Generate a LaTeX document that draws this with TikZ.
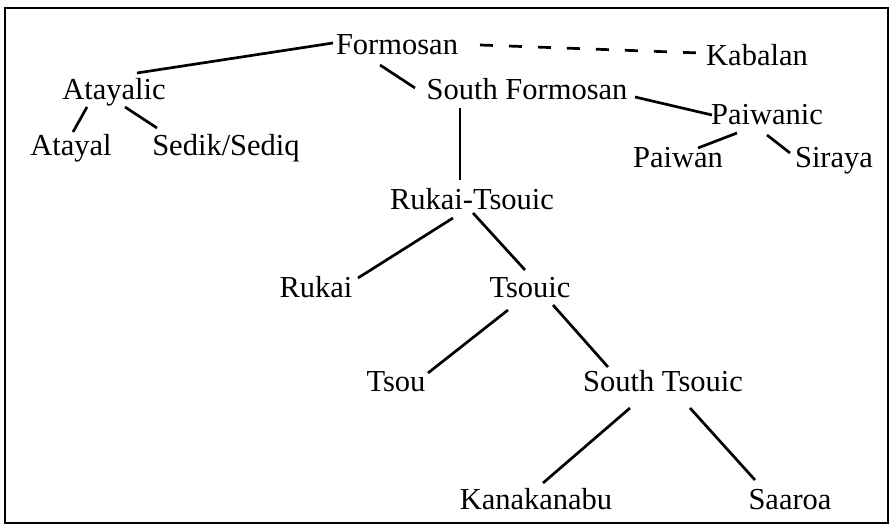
\documentclass[tikz,border=0pt]{standalone}
\usepackage{fontspec}
\setmainfont{Liberation Serif}
\begin{document}
\begin{tikzpicture}[x=1pt,y=-1pt,
  lang/.style={anchor=base,inner sep=0pt,font=\fontsize{30.5}{36}\selectfont},
  branch/.style={line width=2.7pt},
  loose/.style={line width=2.7pt,dash pattern=on 13pt off 16pt}]
\useasboundingbox (0,0) rectangle (892,526);
\draw[line width=2.2pt] (5,8) rectangle (888,523);
\node[lang] (formosan) at (397,55) {Formosan};
\node[lang] (kabalan) at (757,66) {Kabalan};
\node[lang] (atayalic) at (114,100) {Atayalic};
\node[lang] (atayal) at (71,156) {Atayal};
\node[lang] (sedik) at (226,156) {Sedik/Sediq};
\node[lang] (southf) at (527,100) {South Formosan};
\node[lang] (paiwanic) at (767,125) {Paiwanic};
\node[lang] (paiwan) at (678,168) {Paiwan};
\node[lang] (siraya) at (834,168) {Siraya};
\node[lang] (rukaits) at (472,210) {Rukai-Tsouic};
\node[lang] (rukai) at (316,298) {Rukai};
\node[lang] (tsouic) at (530,298) {Tsouic};
\node[lang] (tsou) at (396,392) {Tsou};
\node[lang] (southts) at (663,392) {South Tsouic};
\node[lang] (kanak) at (536,510) {Kanakanabu};
\node[lang] (saaroa) at (790,510) {Saaroa};
\draw[branch] ([shift={(-64,-12)}]formosan.base) -- ([shift={(23,-27)}]atayalic.base);
\draw[branch] ([shift={(-17,10)}]formosan.base) -- ([shift={(-112,-12)}]southf.base);
\draw[branch] ([shift={(-27,7)}]atayalic.base) -- ([shift={(2,-24)}]atayal.base);
\draw[branch] ([shift={(11,7)}]atayalic.base) -- ([shift={(-69,-28)}]sedik.base);
\draw[loose] ([shift={(83,-10)}]formosan.base) -- ([shift={(-57,-13)}]kabalan.base);
\draw[branch] ([shift={(-67,8)}]southf.base) -- ([shift={(-12,-30)}]rukaits.base);
\draw[branch] ([shift={(108,-3)}]southf.base) -- ([shift={(-55,-10)}]paiwanic.base);
\draw[branch] ([shift={(-30,8)}]paiwanic.base) -- ([shift={(20,-20)}]paiwan.base);
\draw[branch] ([shift={(0,10)}]paiwanic.base) -- ([shift={(-44,-15)}]siraya.base);
\draw[branch] ([shift={(-19,8)}]rukaits.base) -- ([shift={(42,-20)}]rukai.base);
\draw[branch] ([shift={(1,3)}]rukaits.base) -- ([shift={(-5,-28)}]tsouic.base);
\draw[branch] ([shift={(-22,12)}]tsouic.base) -- ([shift={(32,-19)}]tsou.base);
\draw[branch] ([shift={(23,7)}]tsouic.base) -- ([shift={(-55,-25)}]southts.base);
\draw[branch] ([shift={(-33,16)}]southts.base) -- ([shift={(7,-27)}]kanak.base);
\draw[branch] ([shift={(27,16)}]southts.base) -- ([shift={(-35,-30)}]saaroa.base);
\end{tikzpicture}
\end{document}
